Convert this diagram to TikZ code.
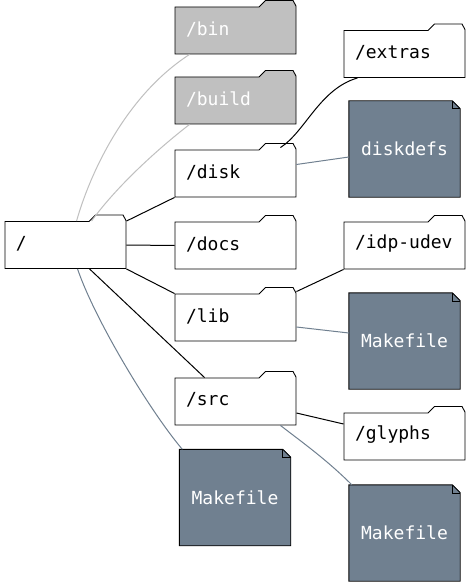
\documentclass[tikz,border=0pt]{standalone}
\usepackage{fontspec}
\newfontfamily\gvmono{DejaVu Sans Mono}
\usetikzlibrary{calc}
\definecolor{slate}{HTML}{708090}
\definecolor{silv}{HTML}{C0C0C0}
\tikzset{
  gvfont/.style={font=\gvmono\fontsize{18bp}{22bp}\selectfont},
  fbody/.style={gvfont, minimum width=121bp, minimum height=47bp, text width=99bp,
    inner xsep=11bp, inner ysep=0pt, align=left, outer sep=0.45bp},
  flabel/.style={gvfont, text width=99bp, inner sep=0pt, align=left},
  fnote/.style={gvfont, minimum width=111bp, minimum height=96bp, inner sep=0pt,
    fill=slate, text=white},
  outline/.style={draw=black, line width=0.9bp, line join=miter},
  blk/.style={draw=black, line width=1bp},
  lgray/.style={draw=silv, line width=1bp},
  sgray/.style={draw=slate, line width=1bp},
}
\newcommand\gvfolder[6]{%
  \filldraw[outline, fill=#5]
     ($(#2,#3)+(-60.5,-23.5)$) -- ($(#2,#3)+(23.5,-23.5)$) -- ($(#2,#3)+(30,-30)$)
     -- ($(#2,#3)+(57.5,-30)$) -- ($(#2,#3)+(60.5,-24.5)$) -- ($(#2,#3)+(60.5,23.5)$)
     -- ($(#2,#3)+(-60.5,23.5)$) -- cycle;
  \node[fbody] (#1) at (#2,#3) {};
  \node[flabel, text=#6] (#1-label) at ($(#2,#3)+(0,-1.5)$) {#4};
}
\newcommand\gvnote[4]{%
  \node[fnote] (#1) at (#2,#3) {#4};
  \fill[white] ($(#1.north east)+(-8,-1)$) -- ($(#1.north east)+(1,-1)$) -- ($(#1.north east)+(1,8)$) -- cycle;
  \draw[outline] (#1.north west) -- ($(#1.north east)+(-8,0)$) -- ($(#1.north east)+(0,8)$)
     -- (#1.south east) -- (#1.south west) -- cycle;
  \draw[black, line width=0.6bp] ($(#1.north east)+(-8,0)$) -- ++(0,8) -- ++(8,0);
}
\begin{document}
\begin{tikzpicture}[x=1bp, y=-1bp]
  \fill[white] (0,0) rectangle (471,587);
  \useasboundingbox (0,0) rectangle (471,587);

  % folders
  \gvfolder{root}{65.5}{245}{/}{white}{black}
  \gvfolder{bin}{235.5}{30.5}{/bin}{silv}{white}
  \gvfolder{build}{235.5}{100.5}{/build}{silv}{white}
  \gvfolder{disk}{235.5}{173.5}{/disk}{white}{black}
  \gvfolder{docs}{235.5}{245.5}{/docs}{white}{black}
  \gvfolder{lib}{235.5}{317.5}{/lib}{white}{black}
  \gvfolder{src}{235.5}{401.5}{/src}{white}{black}
  \gvfolder{extras}{404.5}{54}{/extras}{white}{black}
  \gvfolder{idp}{404.5}{245.5}{/idp-udev}{white}{black}
  \gvfolder{glyphs}{404.5}{436.5}{/glyphs}{white}{black}

  % files
  \gvnote{diskdefs}{404.5}{149}{diskdefs}
  \gvnote{mlib}{404.5}{341}{Makefile}
  \gvnote{mroot}{235}{497.5}{Makefile}
  \gvnote{msrc}{404.5}{533}{Makefile}

  % edges
  \draw[lgray] ($(root.north west)+(72,0)$) .. controls +(13,-46) and +(-65,42) .. ($(bin.south west)+(15,0)$);
  \draw[lgray] ($(root.north west)+(87,0)$) .. controls +(23,-32) and +(-35,27) .. ($(build.south west)+(15,0)$);
  \draw[blk] (root.north east) -- (disk.south west);
  \draw[blk] (root.east) -- (docs.west);
  \draw[blk] (root.south east) -- (lib.north west);
  \draw[blk] ($(root.south west)+(85,0)$) -- ($(src.north west)+(30,0)$);
  \draw[sgray] ($(root.south west)+(73,0)$) .. controls +(17,50) and +(-33,-39) .. ($(mroot.north west)+(3,0)$);

  \draw[blk] ($(disk.north east)+(-16,-2)$) .. controls +(25,-16) and +(-38,11) .. ($(extras.south west)+(14,0)$);
  \draw[sgray] ($(disk.east)+(0,-9)$) -- ($(diskdefs.west)+(0,8)$);

  \draw[blk] ($(lib.north east)+(0,-2)$) -- (idp.south west);
  \draw[sgray] ($(lib.east)+(0,9.5)$) -- ($(mlib.west)+(0,-8)$);

  \draw[blk] ($(src.east)+(0,11.5)$) -- ($(glyphs.west)+(0,-12.5)$);
  \draw[sgray] ($(src.south east)+(-16,0)$) .. controls +(22,17) and +(-25,-25) .. ($(msrc.north west)+(3,0)$);
\end{tikzpicture}
\end{document}
